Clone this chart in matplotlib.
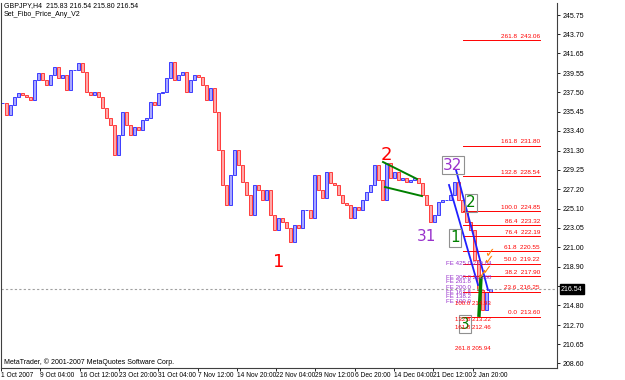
import numpy as np
import matplotlib
matplotlib.use("Agg")
from matplotlib import pyplot as plt

plt.rcParams['font.family'] = ['Liberation Sans', 'DejaVu Sans']

# GBPJPY H4 closes, one value every 4 bars
closes = [236.37, 235.09, 236.16, 237.01, 237.44, 237.22, 237.01, 236.69, 238.82, 239.57,
          238.82, 238.29, 239.35, 240.21, 239.03, 239.35, 237.75, 239.89, 239.89, 240.63,
          239.67, 237.54, 237.22, 237.54, 237.01, 235.84, 234.77, 234.02, 230.83, 232.96,
          235.41, 234.02, 232.96, 233.81, 233.49, 234.56, 234.77, 236.48, 236.16, 237.44,
          237.54, 239.03, 240.74, 238.82, 239.35, 239.67, 237.54, 238.82, 239.35, 239.14,
          238.29, 236.69, 237.97, 235.41, 231.36, 227.63, 225.50, 228.69, 231.36, 229.76,
          227.95, 226.56, 224.43, 227.63, 227.09, 226.03, 227.09, 224.43, 222.83, 224.11,
          223.68, 223.04, 221.55, 223.36, 223.04, 224.96, 224.96, 224.11, 228.69, 227.09,
          226.24, 229.01, 227.84, 227.63, 226.56, 225.71, 225.50, 224.11, 225.28, 224.96,
          226.03, 226.88, 227.63, 229.76, 228.16, 226.03, 229.97, 228.37, 229.01, 228.16,
          228.37, 227.95, 228.16, 228.37, 227.84, 226.56, 225.50, 223.68, 224.43, 225.82,
          226.03, 226.03, 226.56, 227.95, 226.03, 224.75, 223.68, 222.83, 219.63, 216.43,
          214.30, 216.22, 216.54]
bar_step = 4

date_labels = ["1 Oct 2007", "9 Oct 04:00", "16 Oct 12:00", "23 Oct 20:00", "31 Oct 04:00",
               "7 Nov 12:00", "14 Nov 20:00", "22 Nov 04:00", "29 Nov 12:00", "6 Dec 20:00",
               "14 Dec 04:00", "21 Dec 12:00", "2 Jan 20:00"]
price_ticks = [245.75, 243.70, 241.65, 239.55, 237.50, 235.45, 233.40, 231.30, 229.25, 227.20,
               225.10, 223.05, 221.00, 218.90, 216.85, 214.80, 212.70, 210.65, 208.60]

fibo_pct = ["261.8", "161.8", "132.8", "100.0", "86.4", "76.4", "61.8", "50.0", "38.2", "23.6", "0.0"]
fibo_price = [243.06, 231.80, 228.54, 224.85, 223.32, 222.19, 220.55, 219.22, 217.90, 216.25, 213.60]

# wave labels: text, bar, price, colour, boxed
wave_text = ["1", "2", "31", "32", "2", "1", "3"]
wave_bar = [279, 386, 426, 453, 471, 455, 465]
wave_price = [219.42, 230.83, 222.19, 229.76, 225.71, 221.98, 212.81]
wave_color = ["red", "red", "#9932CC", "#9932CC", "green", "green", "green"]
wave_box = [False, False, False, True, True, True, True]

fe_text = ["FE 425.0 219.84", "FE 300.0 218.68", "FE 261.8", "FE 200.0", "FE 161.8", "FE 138.2", "FE 100.0"]
fe_price = [219.31, 217.82, 217.29, 216.65, 216.12, 215.69, 215.26]
low_text = ["100.0 214.93", "132.8 213.22", "161.8 212.46", "261.8 205.94"]
low_price = [214.95, 213.34, 212.49, 210.15]
checks_bar = [489, 488, 486, 481]
checks_price = [220.27, 219.53, 218.46, 217.93]

last_price = 216.54

fig = plt.figure(figsize=(6.25, 3.8), dpi=100)
ax = fig.add_axes([1 / 625, 12 / 380, 556 / 625, 365 / 380])
ax.set_xlim(1, 557)
ax.set_ylim(208.12, 247.03)

x = np.arange(len(closes)) * bar_step + 2
c = np.array(closes)
o = np.r_[c[0], c[:-1]]
lo = np.minimum(o, c)
hi = np.maximum(o, c)
up = c >= o
ax.bar(x[up], (hi - lo)[up], bottom=lo[up], width=3, color="#a8a8ff", edgecolor="#3c3cff", linewidth=0.7)
ax.bar(x[~up], (hi - lo)[~up], bottom=lo[~up], width=3, color="#ffa8a8", edgecolor="#ff3c3c", linewidth=0.7)

# current price line
ax.axhline(last_price, color="#a0a0a0", lw=0.8, ls=(0, (2, 2)))

# fibo retracement levels
for pct, p in zip(fibo_pct, fibo_price):
    ax.plot([463, 540], [p, p], color="red", lw=0.7)
    ax.text(540, p + 0.15, pct + "  " + f"{p:.2f}", color="red", fontsize=4.6, ha="right", va="bottom")

# trend lines
ax.plot([383, 417], [230.08, 228.27], color="green", lw=1.4)
ax.plot([385, 422], [227.41, 226.45], color="green", lw=1.4)
ax.plot([449, 478], [227.63, 216.97], color="#2020ff", lw=1.3)
ax.plot([456, 488], [229.23, 216.43], color="#2020ff", lw=1.3)
ax.plot([479, 481], [213.75, 217.8], color="green", lw=2.5)

for t, b, p, col, box in zip(wave_text, wave_bar, wave_price, wave_color, wave_box):
    size = 13 if col == "red" else 11
    kw = {}
    if box:
        kw["bbox"] = dict(boxstyle="square,pad=0.1", fc="none", ec="#909090", lw=0.8)
    ax.text(b, p, t, color=col, fontsize=size, ha="center", va="center", family="DejaVu Sans", **kw)

for t, p in zip(fe_text, fe_price):
    ax.text(446, p, t, color="#9932CC", fontsize=4.4, ha="left", va="center")
for t, p in zip(low_text, low_price):
    ax.text(455, p, t, color="red", fontsize=4.4, ha="left", va="center")
for b, p in zip(checks_bar, checks_price):
    ax.text(b, p, "\u2713", color="#ff8000", fontsize=9, ha="center", va="center", family="DejaVu Sans")

# axes styling
ax.spines["top"].set_visible(False)
for s in ["left", "bottom", "right"]:
    ax.spines[s].set_color("#404040")
    ax.spines[s].set_linewidth(0.8)
ax.yaxis.tick_right()
ax.set_yticks(price_ticks)
ax.set_yticklabels(["" if abs(v - 216.85) < 0.01 else f"{v:.2f}" for v in price_ticks], fontsize=5)
ax.tick_params(axis="y", length=2, pad=2, width=0.6)
ax.set_xticks([1 + 39.3 * i for i in range(len(date_labels))])
ax.set_xticklabels(date_labels, fontsize=4.8, ha="left")
ax.tick_params(axis="x", length=2, pad=1, width=0.6)

ax.text(561, last_price, f"{last_price:.2f}", color="white", fontsize=5,
        ha="left", va="center", clip_on=False,
        bbox=dict(boxstyle="square,pad=0.15", fc="black", ec="black"))

fig.text(4 / 625, 1 - 6 / 380, "GBPJPY,H4  215.83 216.54 215.80 216.54", fontsize=5, va="center")
fig.text(4 / 625, 1 - 15 / 380, "Set_Fibo_Price_Any_V2", fontsize=5, va="center")
fig.text(4 / 625, 1 - 362 / 380, "MetaTrader, \u00a9 2001-2007 MetaQuotes Software Corp.", fontsize=5, va="center")

fig.savefig("out.png", dpi=100)
